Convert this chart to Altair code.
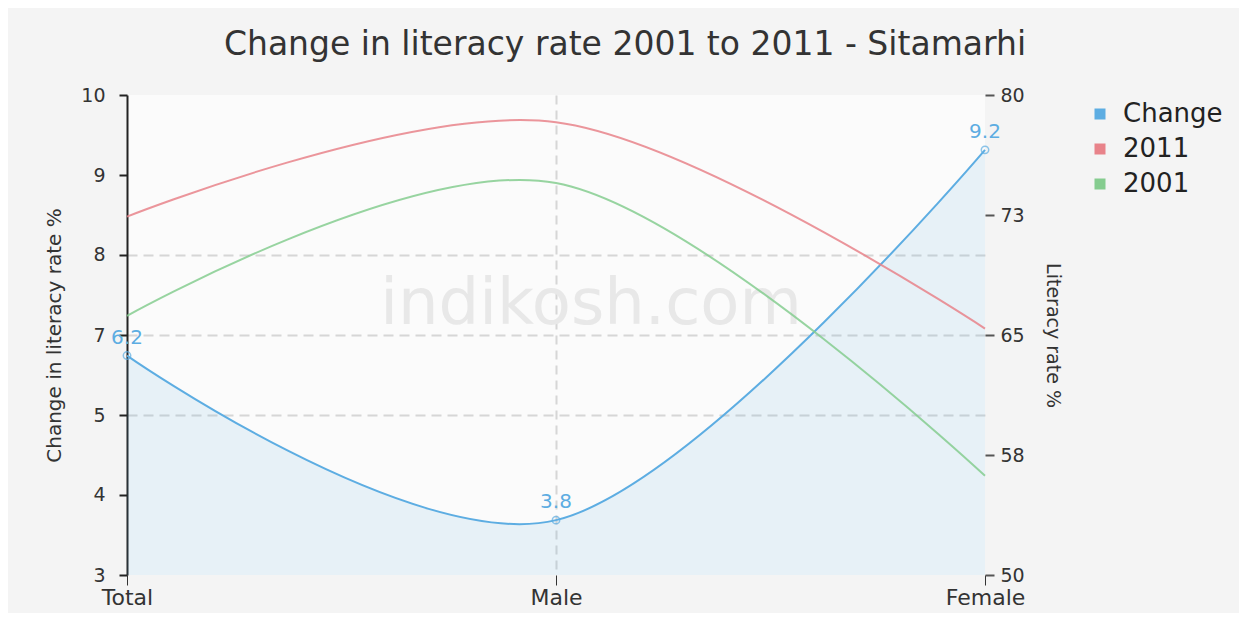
import altair as alt
import pandas as pd

categories = ["Total", "Male", "Female"]
change = [6.2, 3.8, 9.2]
rate_2011 = [72.4, 78.3, 65.4]
rate_2001 = [66.2, 74.5, 56.2]
series_names = ["Change", "2011", "2001"]
series_colors = ["#5dade2", "#e8838a", "#85cc8f"]
left_ticks = [3, 4.1667, 5.3333, 6.5, 7.6667, 8.8333, 10]
right_ticks = [50, 57.5, 65, 72.5, 80]
title_text = "Change in literacy rate 2001 to 2011 - Sitamarhi"
watermark_text = ["indikosh.com"]

FONT = "DejaVu Sans"
BLUE = series_colors[0]

change_df = pd.DataFrame({
    "category": categories,
    "value": change,
    "series": ["Change"] * len(categories),
    "label": [f"{v:.1f}" for v in change],
})
rates_df = pd.DataFrame({
    "category": categories * 2,
    "value": rate_2011 + rate_2001,
    "series": ["2011"] * len(categories) + ["2001"] * len(categories),
})
wm_df = pd.DataFrame({"t": watermark_text})

color_scale = alt.Scale(domain=series_names, range=series_colors)

x_enc = alt.X(
    "category:N",
    sort=categories,
    scale=alt.Scale(type="point", padding=0, domain=categories),
    axis=alt.Axis(
        title=None, labelAngle=0, labelAlign="center", domain=False, tickSize=10,
        tickColor="#333", labelFontSize=22, labelColor="#333", labelFont=FONT,
        labelPadding=12, labelFlush=False,
        grid=True, gridDash=[9, 6], gridWidth=2,
        gridColor=alt.condition("datum.value === 'Male'", alt.value("#d6d6d6"), alt.value("transparent")),
    ),
)

left_y = alt.Y(
    "value:Q",
    scale=alt.Scale(domain=[3, 10], nice=False, zero=False),
    axis=alt.Axis(
        orient="left", values=left_ticks, format=".0f",
        title="Change in literacy rate %", titleFontSize=20, titleFontWeight="normal",
        titleColor="#333", titleFont=FONT, titlePadding=16,
        labelFontSize=19, labelColor="#333", labelFont=FONT, labelPadding=14,
        domainColor="#222", domainWidth=2, tickColor="#222", tickSize=8, tickWidth=2,
        grid=True, gridDash=[10, 6], gridWidth=2,
        gridColor=alt.condition("datum.value > 5 && datum.value < 8", alt.value("#d6d6d6"), alt.value("transparent")),
    ),
)

right_y = alt.Y(
    "value:Q",
    scale=alt.Scale(domain=[50, 80], nice=False, zero=False),
    axis=alt.Axis(
        orient="right", values=right_ticks, format=".0f",
        title="Literacy rate %", titleFontSize=19, titleFontWeight="normal",
        titleColor="#333", titleFont=FONT, titlePadding=18,
        labelFontSize=19, labelColor="#333", labelFont=FONT, labelPadding=6,
        domain=False, tickColor="#555", tickSize=9, tickWidth=2, grid=False,
    ),
)

watermark = alt.Chart(wm_df).mark_text(
    fontSize=64, font=FONT, color="#e8e8e8", baseline="middle", dx=35
).encode(x=alt.XDatum("Male"), y=alt.YDatum(6.94), text="t:N")

area = alt.Chart(change_df).mark_area(
    interpolate="cardinal", color=BLUE, opacity=0.12
).encode(x=x_enc, y=left_y, y2=alt.Y2Datum(3))

legend_sq = alt.Chart(change_df).mark_square(opacity=0, size=1).encode(
    x=x_enc, y=left_y,
    color=alt.Color(
        "series:N", scale=color_scale,
        legend=alt.Legend(
            title=None, orient="none", legendX=960, legendY=6, symbolType="square",
            symbolSize=90, symbolOpacity=1, labelFontSize=26, labelFont=FONT,
            labelColor="#222", rowPadding=9, labelOffset=10,
        ),
    ),
)

change_line = alt.Chart(change_df).mark_line(
    interpolate="cardinal", strokeWidth=2
).encode(x=x_enc, y=left_y, color=alt.Color("series:N", scale=color_scale, legend=None))

points = alt.Chart(change_df).mark_point(
    filled=False, size=55, strokeWidth=1.5, color=BLUE
).encode(x=x_enc, y=left_y)

labels = alt.Chart(change_df).mark_text(
    dy=-18, fontSize=20, font=FONT, color=BLUE
).encode(x=x_enc, y=left_y, text="label:N")

left_group = alt.layer(watermark, area, legend_sq, change_line, points, labels)

rate_lines = alt.Chart(rates_df).mark_line(
    interpolate="cardinal", strokeWidth=2, opacity=0.85
).encode(
    x=x_enc, y=right_y,
    color=alt.Color("series:N", scale=color_scale, legend=None),
    detail="series:N",
)

chart = alt.layer(left_group, rate_lines).resolve_scale(y="independent").properties(
    width=858,
    height=480,
    padding={"left": 119, "top": 87, "right": 254, "bottom": 38},
    autosize=alt.AutoSizeParams(type="none"),
    background="#f4f4f4",
    title=alt.TitleParams(
        text=title_text, fontSize=33, font=FONT, fontWeight="normal",
        color="#333", anchor="middle", dx=69, offset=24,
    ),
).configure_view(fill="#fbfbfb", stroke=None)

chart.save("out.html", embed_options={"renderer": "svg", "actions": False})
